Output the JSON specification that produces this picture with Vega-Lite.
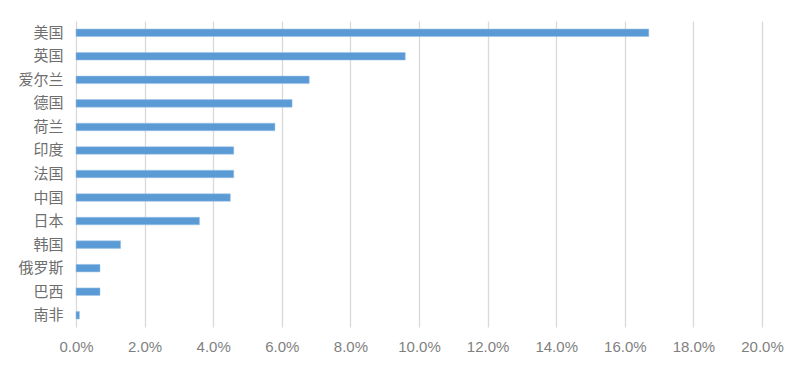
{
  "$schema": "https://vega.github.io/schema/vega-lite/v6.json",
  "width": 686,
  "height": 306,
  "autosize": {"type": "none"},
  "padding": {"left": 76, "top": 21, "right": 38, "bottom": 47},
  "background": "white",
  "config": {"view": {"stroke": null}},
  "data": {
    "values": [
      {"country": "美国", "share": 0.167},
      {"country": "英国", "share": 0.096},
      {"country": "爱尔兰", "share": 0.068},
      {"country": "德国", "share": 0.063},
      {"country": "荷兰", "share": 0.058},
      {"country": "印度", "share": 0.046},
      {"country": "法国", "share": 0.046},
      {"country": "中国", "share": 0.045},
      {"country": "日本", "share": 0.036},
      {"country": "韩国", "share": 0.013},
      {"country": "俄罗斯", "share": 0.007},
      {"country": "巴西", "share": 0.007},
      {"country": "南非", "share": 0.001}
    ]
  },
  "mark": {"type": "bar", "color": "#5B9BD5", "stroke": "#9CC3E6", "strokeWidth": 0.5},
  "encoding": {
    "y": {
      "field": "country",
      "type": "nominal",
      "sort": null,
      "scale": {"paddingInner": 0.68, "paddingOuter": 0.34},
      "axis": {
        "title": null,
        "domain": false,
        "ticks": false,
        "labelPadding": 13,
        "labelFont": "Noto Sans CJK SC",
        "labelFontSize": 15,
        "labelColor": "#6E6E6E"
      }
    },
    "x": {
      "field": "share",
      "type": "quantitative",
      "scale": {"domain": [0, 0.2]},
      "axis": {
        "title": null,
        "format": ".1%",
        "values": [0, 0.02, 0.04, 0.06, 0.08, 0.1, 0.12, 0.14, 0.16, 0.18, 0.2],
        "domain": false,
        "ticks": false,
        "grid": true,
        "gridColor": "#D9D9D9",
        "gridWidth": 1.3,
        "labelPadding": 12,
        "labelFont": "Liberation Sans",
        "labelFontSize": 15,
        "labelColor": "#7F7F7F",
        "labelFlush": false
      }
    }
  }
}
